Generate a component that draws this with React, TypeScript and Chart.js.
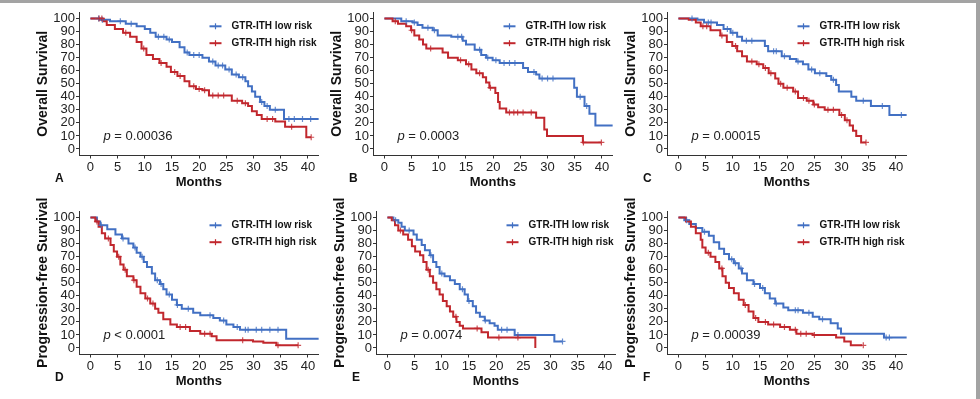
import React, { useEffect, useRef } from 'react';
import { Chart, registerables } from 'chart.js';

Chart.register(...registerables);

// ---------- shared labels ----------
const X_TICKS = [0, 5, 10, 15, 20, 25, 30, 35, 40];
const Y_TICKS = [0, 10, 20, 30, 40, 50, 60, 70, 80, 90, 100];
const SERIES_NAMES = ['GTR-ITH low risk', 'GTR-ITH high risk'];
const PANEL_LETTERS = ['A', 'B', 'C', 'D', 'E', 'F'];
const Y_TITLES = [
  'Overall Survival', 'Overall Survival', 'Overall Survival',
  'Progression-free Survival', 'Progression-free Survival', 'Progression-free Survival',
];
const P_LABELS = ['= 0.00036', '= 0.0003', '= 0.00015', '< 0.0001', '= 0.0074', '= 0.00039'];
const X_TITLE = 'Months';

// ---------- Panel A (OS) ----------
const A_LOW_T = [1.8, 3.6, 6.5, 8.5, 10, 11, 12, 14, 15, 16.4, 17.3, 18.2, 20.6, 21.8, 23, 24.8, 26, 27.3, 28.5, 29, 29.7, 30.3, 31.2, 32, 33, 35.6];
const A_LOW_S = [99, 98, 96, 94, 92, 89, 86, 84, 82, 78, 74, 72, 70, 67, 64, 61, 57, 55, 52, 48, 44, 40, 36, 33, 30, 23];
const A_LOW_END = 42;
const A_LOW_CENS = [1.5, 2.2, 5.5, 7.5, 12.5, 13.5, 14.5, 17.8, 19, 20, 22.5, 23.5, 24.3, 25.5, 26.8, 28, 31.5, 32.5, 34, 36.5, 37.5, 39, 40.5];
const A_HIGH_T = [2.4, 3, 4.5, 6, 7.3, 8.5, 9.4, 10.3, 11.5, 12.7, 14, 14.8, 16, 17.3, 18.2, 19.4, 20.6, 21.8, 26, 27.9, 29, 29.7, 30.6, 31.5, 34, 35.8, 39.7];
const A_HIGH_S = [98, 95, 92, 89, 86, 82, 77, 72, 69, 66, 63, 59, 56, 52, 48, 46, 45, 41, 37, 35, 33, 29, 26, 23, 21, 17, 9];
const A_HIGH_END = 40.6;
const A_HIGH_CENS = [1.6, 2.1, 6.5, 9.8, 13, 15.5, 16.5, 19, 20, 21, 22.5, 23.5, 24.5, 27, 28.5, 32.5, 33.5, 37, 40.6];

// ---------- Panel B (OS) ----------
const B_LOW_T = [3.1, 5.2, 6.1, 7, 8.9, 9.8, 12.3, 14.4, 15, 16.6, 17.8, 18.7, 19.9, 21.2, 25.5, 26.4, 27.9, 28.5, 34.9, 35.4, 36.8, 37.7, 38.8];
const B_LOW_S = [98, 97, 95, 93, 91, 87, 86, 83, 80, 76, 72, 70, 68, 66, 62, 59, 57, 54, 47, 40, 33, 27, 18];
const B_LOW_END = 42;
const B_LOW_CENS = [4, 5.5, 8, 9.2, 13.5, 14.2, 17.5, 19, 20.5, 22, 23, 24, 27.5, 29, 30, 31, 36, 37.2];
const B_HIGH_T = [1.5, 2.5, 4, 4.9, 5.5, 6.4, 7.1, 7.7, 10.7, 11.7, 13.5, 15, 16, 16.9, 18.1, 18.7, 19.3, 20.4, 20.9, 21.2, 22.4, 27.9, 29.4, 29.9, 36.5];
const B_HIGH_S = [98, 96, 94, 91, 87, 84, 80, 77, 74, 70, 68, 65, 61, 58, 55, 51, 47, 43, 36, 31, 28, 24, 15, 10, 5];
const B_HIGH_END = 39.9;
const B_HIGH_CENS = [2, 5, 8.5, 14, 15.5, 17.5, 19.5, 23, 23.8, 24.5, 25.5, 27, 36.6, 39.9];

// ---------- Panel C (OS) ----------
const C_LOW_T = [3.5, 4.7, 7.1, 8.3, 9.6, 10.8, 11.7, 15.9, 16.5, 19, 20.5, 21.7, 22.9, 23.9, 25.1, 27.2, 28.1, 29, 29.5, 31.8, 32.7, 35.4, 38.8];
const C_LOW_S = [99, 97, 95, 92, 89, 86, 83, 79, 75, 71, 69, 67, 65, 61, 58, 56, 53, 49, 44, 40, 37, 33, 26];
const C_LOW_END = 42;
const C_LOW_CENS = [2.5, 5.5, 6, 9, 10, 12.5, 13.5, 17.5, 18, 19.5, 22, 24.5, 26, 28.5, 34, 37.5, 41];
const C_HIGH_T = [1.9, 3.2, 4.1, 5.9, 7.7, 8.9, 9.9, 10.8, 11.7, 12.6, 14.4, 15.6, 16.6, 17.8, 18.4, 19.3, 21.1, 22, 23.6, 24.8, 25.7, 26.9, 29.6, 30.6, 31.5, 32.1, 32.7, 33.6];
const C_HIGH_S = [99, 97, 94, 91, 87, 82, 79, 75, 71, 67, 65, 62, 58, 54, 50, 47, 44, 39, 37, 34, 32, 30, 26, 22, 18, 14, 10, 5];
const C_HIGH_END = 34.5;
const C_HIGH_CENS = [4.5, 5.2, 8, 10.5, 13.5, 14.8, 16, 17, 18.8, 20, 21.5, 23, 24, 25, 27.5, 28.5, 30, 31, 34.5];

// ---------- Panel D (PFS) ----------
const D_LOW_T = [1.2, 1.8, 3.1, 4.6, 5.8, 7, 7.9, 8.5, 9.2, 9.8, 10.4, 11.3, 11.9, 12.8, 13.4, 14, 15, 15.9, 16.8, 18.9, 20.2, 22.6, 23.8, 25, 26.3, 27.5, 36];
const D_LOW_S = [97, 94, 91, 87, 84, 80, 77, 73, 70, 66, 62, 57, 52, 49, 45, 41, 37, 33, 30, 27, 25, 23, 21, 18, 16, 14, 7];
const D_LOW_END = 42;
const D_LOW_CENS = [2, 6, 8.2, 9.5, 12.3, 13, 14.5, 16, 18, 22, 24.5, 27, 28.5, 29, 30.5, 31.5, 33, 34.5];
const D_HIGH_T = [0.9, 1.5, 2.1, 2.7, 3.7, 4.3, 4.9, 5.5, 6.1, 6.7, 7.9, 8.5, 9.2, 10.1, 11, 11.9, 12.5, 13.4, 14.7, 15.9, 18.3, 20.2, 22.3, 23.2, 29.9, 31.8, 34.2];
const D_HIGH_S = [97, 93, 88, 84, 79, 74, 70, 64, 60, 55, 52, 47, 42, 38, 34, 30, 27, 22, 18, 16, 13, 11, 9, 6, 5, 4, 2];
const D_HIGH_END = 38.2;
const D_HIGH_CENS = [1.2, 3.3, 5.2, 6.4, 8, 10.5, 11.5, 16.5, 17.5, 21, 22, 28, 34.5, 38.2];

// ---------- Panel E (PFS) ----------
const E_LOW_T = [1.1, 2, 2.6, 3.2, 4.8, 5.4, 6.3, 6.9, 7.8, 8.4, 9, 9.6, 10.5, 11.5, 12.4, 13.3, 14.2, 14.8, 15.7, 16.3, 17, 17.9, 18.8, 19.7, 20.3, 23.4, 30.7];
const E_LOW_S = [98, 96, 93, 90, 87, 83, 79, 75, 71, 66, 62, 57, 55, 52, 49, 45, 41, 36, 32, 27, 24, 21, 19, 17, 14, 10, 5];
const E_LOW_END = 32.2;
const E_LOW_CENS = [1.5, 4, 8, 10, 13.8, 15, 18, 21, 22, 24, 32.2];
const E_HIGH_T = [0.8, 1.4, 2, 2.9, 3.8, 4.5, 5.1, 6, 6.6, 7.2, 7.8, 8.4, 9, 9.6, 10.2, 10.9, 11.5, 12.1, 12.7, 13.3, 13.9, 17.3, 18.5, 27.2];
const E_HIGH_S = [98, 94, 90, 87, 83, 78, 74, 71, 66, 60, 55, 50, 45, 41, 36, 32, 28, 24, 20, 17, 15, 12, 8, 0];
const E_HIGH_END = 27.2;
const E_HIGH_CENS = [2.4, 7.5, 12.6, 16.5, 20.5, 24];

// ---------- Panel F (PFS) ----------
const F_LOW_T = [1.1, 2, 3.2, 4.4, 5.6, 6.5, 7.5, 8.4, 9.3, 10.2, 11.1, 11.7, 12.6, 13.8, 15, 15.9, 16.8, 17.8, 19.3, 20.2, 22.9, 24.7, 25.9, 28, 29.3, 29.9, 37.8];
const F_LOW_S = [98, 95, 92, 89, 86, 81, 76, 72, 68, 65, 61, 57, 52, 49, 46, 42, 38, 34, 31, 29, 27, 24, 22, 19, 15, 11, 8];
const F_LOW_END = 42;
const F_LOW_CENS = [1.5, 4.8, 9.8, 10.5, 11.5, 14, 15.5, 18, 21.5, 22, 24, 26.5, 38.2, 38.8];
const F_HIGH_T = [1.4, 2.3, 3.2, 4.1, 4.4, 5, 5.9, 6.8, 7.5, 8.1, 8.7, 9.3, 10.2, 11.1, 12, 12.9, 13.8, 14.7, 16.5, 18.7, 20.5, 21.7, 24.7, 29, 30.5, 31.7];
const F_HIGH_S = [97, 93, 88, 83, 77, 73, 70, 66, 61, 55, 50, 46, 42, 37, 33, 28, 23, 20, 18, 16, 14, 11, 10, 8, 5, 2];
const F_HIGH_END = 33.8;
const F_HIGH_CENS = [5.5, 8, 12.3, 14.2, 16, 17.5, 19.5, 21.5, 22.5, 23.5, 25, 34];

// ---------- styling / layout ----------
const BLUE = '#4270C3';
const RED = '#C1272D';
const FONT = '"Liberation Sans", Arial, Helvetica, sans-serif';
const Y_SCALE_W = 44;
const X_SCALE_H = 36.5;
const PAD_TOP = 16;
const PAD_RIGHT = 4;
const PLOT_W = 241;
const PLOT_H = 143.5;
const CANVAS_W = Y_SCALE_W + PLOT_W + PAD_RIGHT;
const CANVAS_H = PAD_TOP + PLOT_H + X_SCALE_H;
const PLOT_LEFTS = [79, 373, 667, 79, 376, 667];
const PLOT_TOPS = [12, 12, 12, 211, 211, 211];

type Curve = { t: number[]; s: number[]; end: number; cens: number[] };
const CURVES: { low: Curve; high: Curve }[] = [
  { low: { t: A_LOW_T, s: A_LOW_S, end: A_LOW_END, cens: A_LOW_CENS }, high: { t: A_HIGH_T, s: A_HIGH_S, end: A_HIGH_END, cens: A_HIGH_CENS } },
  { low: { t: B_LOW_T, s: B_LOW_S, end: B_LOW_END, cens: B_LOW_CENS }, high: { t: B_HIGH_T, s: B_HIGH_S, end: B_HIGH_END, cens: B_HIGH_CENS } },
  { low: { t: C_LOW_T, s: C_LOW_S, end: C_LOW_END, cens: C_LOW_CENS }, high: { t: C_HIGH_T, s: C_HIGH_S, end: C_HIGH_END, cens: C_HIGH_CENS } },
  { low: { t: D_LOW_T, s: D_LOW_S, end: D_LOW_END, cens: D_LOW_CENS }, high: { t: D_HIGH_T, s: D_HIGH_S, end: D_HIGH_END, cens: D_HIGH_CENS } },
  { low: { t: E_LOW_T, s: E_LOW_S, end: E_LOW_END, cens: E_LOW_CENS }, high: { t: E_HIGH_T, s: E_HIGH_S, end: E_HIGH_END, cens: E_HIGH_CENS } },
  { low: { t: F_LOW_T, s: F_LOW_S, end: F_LOW_END, cens: F_LOW_CENS }, high: { t: F_HIGH_T, s: F_HIGH_S, end: F_HIGH_END, cens: F_HIGH_CENS } },
];

function stepAt(c: Curve, x: number) {
  let v = 100;
  for (let i = 0; i < c.t.length; i++) {
    if (c.t[i] <= x) v = c.s[i];
    else break;
  }
  return v;
}

function linePoints(c: Curve) {
  const pts = [{ x: 0, y: 100 }];
  c.t.forEach((t, i) => pts.push({ x: t, y: c.s[i] }));
  pts.push({ x: c.end, y: c.s[c.s.length - 1] });
  return pts;
}

function censPoints(c: Curve) {
  return c.cens.map((t) => ({ x: t, y: stepAt(c, t) }));
}

const decoPlugin = {
  id: 'deco',
  afterDraw(chart: any) {
    const o = chart.options.plugins.deco;
    const { ctx, chartArea: ca } = chart;
    const yScale = chart.scales.y;
    ctx.save();
    ctx.textBaseline = 'middle';
    ctx.textAlign = 'left';
    // legend
    const lx = ca.left + 130.5;
    const items: [string, string, number][] = [
      [BLUE, SERIES_NAMES[0], 14.3],
      [RED, SERIES_NAMES[1], 31.2],
    ];
    items.forEach(([c, name, dy]) => {
      const yy = ca.top + dy;
      ctx.strokeStyle = c;
      ctx.lineWidth = 2;
      ctx.beginPath();
      ctx.moveTo(lx, yy);
      ctx.lineTo(lx + 12, yy);
      ctx.stroke();
      ctx.lineWidth = 1.2;
      ctx.beginPath();
      ctx.moveTo(lx + 6, yy - 3);
      ctx.lineTo(lx + 6, yy + 3);
      ctx.stroke();
      ctx.fillStyle = '#111';
      ctx.font = `bold 10px ${FONT}`;
      ctx.fillText(name, lx + 22, yy);
    });
    // p-value
    const px = ca.left + 24.5;
    const py = yScale.getPixelForValue(9.5);
    ctx.fillStyle = '#222';
    ctx.font = `italic 13px ${FONT}`;
    ctx.fillText('p', px, py);
    const pw = ctx.measureText('p').width;
    ctx.font = `13px ${FONT}`;
    ctx.fillText(' ' + o.pText, px + pw, py);
    // panel letter
    ctx.fillStyle = '#111';
    ctx.font = `bold 12px ${FONT}`;
    ctx.fillText(o.letter, ca.left - 24, ca.bottom + 23.5);
    ctx.restore();
  },
};

function Panel({ idx }: { idx: number }) {
  const ref = useRef<HTMLCanvasElement | null>(null);
  useEffect(() => {
    const cv = CURVES[idx];
    const chart = new Chart(ref.current as HTMLCanvasElement, {
      type: 'line',
      data: {
        datasets: [
          {
            label: SERIES_NAMES[1] + ' censored',
            data: censPoints(cv.high),
            showLine: false,
            pointStyle: 'cross',
            pointRadius: 3,
            pointBorderWidth: 1.2,
            pointBorderColor: RED + 'CC',
            borderColor: RED,
            backgroundColor: RED,
          } as any,
          {
            label: SERIES_NAMES[0] + ' censored',
            data: censPoints(cv.low),
            showLine: false,
            pointStyle: 'cross',
            pointRadius: 3,
            pointBorderWidth: 1.2,
            pointBorderColor: BLUE + 'CC',
            borderColor: BLUE,
            backgroundColor: BLUE,
          } as any,
          {
            label: SERIES_NAMES[1],
            data: linePoints(cv.high),
            borderColor: RED,
            borderWidth: 2,
            stepped: 'before',
            pointRadius: 0,
            fill: false,
          } as any,
          {
            label: SERIES_NAMES[0],
            data: linePoints(cv.low),
            borderColor: BLUE,
            borderWidth: 2,
            stepped: 'before',
            pointRadius: 0,
            fill: false,
          } as any,
        ],
      },
      options: {
        animation: false,
        responsive: false,
        maintainAspectRatio: false,
        events: [],
        layout: { padding: { top: PAD_TOP, right: PAD_RIGHT, left: 0, bottom: 0 } },
        plugins: {
          legend: { display: false },
          tooltip: { enabled: false },
          deco: { letter: PANEL_LETTERS[idx], pText: P_LABELS[idx] },
        } as any,
        scales: {
          x: {
            type: 'linear',
            min: -2.1,
            max: 42,
            afterBuildTicks: (s: any) => {
              s.ticks = X_TICKS.map((v) => ({ value: v }));
            },
            afterFit: (s: any) => {
              s.height = X_SCALE_H;
            },
            grid: { drawOnChartArea: false, drawTicks: true, tickLength: 3, tickColor: '#333', tickWidth: 1 },
            border: { display: true, color: '#333', width: 1 },
            ticks: {
              padding: 1,
              color: '#222',
              font: { size: 13, family: FONT },
              maxRotation: 0,
              autoSkip: false,
              callback: (v: any) => String(v),
            },
            title: {
              display: true,
              text: X_TITLE,
              color: '#111',
              font: { size: 13, weight: 'bold', family: FONT, lineHeight: 1.2 },
              padding: { top: 0, bottom: 2 },
            },
          },
          y: {
            type: 'linear',
            min: -5,
            max: 105,
            afterBuildTicks: (s: any) => {
              s.ticks = Y_TICKS.map((v) => ({ value: v }));
            },
            afterFit: (s: any) => {
              s.width = Y_SCALE_W;
            },
            grid: { drawOnChartArea: false, drawTicks: true, tickLength: 3, tickColor: '#333', tickWidth: 1 },
            border: { display: true, color: '#333', width: 1 },
            ticks: {
              padding: 1,
              color: '#222',
              font: { size: 13, family: FONT },
              autoSkip: false,
              callback: (v: any) => String(v),
            },
            title: {
              display: true,
              text: Y_TITLES[idx],
              color: '#111',
              font: { size: 14, weight: 'bold', family: FONT, lineHeight: 1.2 },
              padding: { top: 0, bottom: 0 },
            },
          },
        },
      } as any,
      plugins: [decoPlugin as any],
    });
    return () => chart.destroy();
  }, [idx]);
  return (
    <canvas
      ref={ref}
      width={CANVAS_W}
      height={CANVAS_H}
      style={{
        position: 'absolute',
        left: PLOT_LEFTS[idx] - Y_SCALE_W,
        top: PLOT_TOPS[idx] - PAD_TOP,
        width: CANVAS_W,
        height: CANVAS_H,
      }}
    />
  );
}

export default function App() {
  return (
    <div
      style={{
        position: 'fixed',
        left: 0,
        top: 0,
        width: 980,
        height: 399,
        background: '#ffffff',
        overflow: 'hidden',
      }}
    >
      {PANEL_LETTERS.map((_, i) => (
        <Panel key={i} idx={i} />
      ))}
      <div style={{ position: 'absolute', left: 0, top: 0, width: 980, height: 3, background: '#a3a3a3' }} />
      <div style={{ position: 'absolute', left: 976, top: 0, width: 4, height: 399, background: '#a3a3a3' }} />
    </div>
  );
}
